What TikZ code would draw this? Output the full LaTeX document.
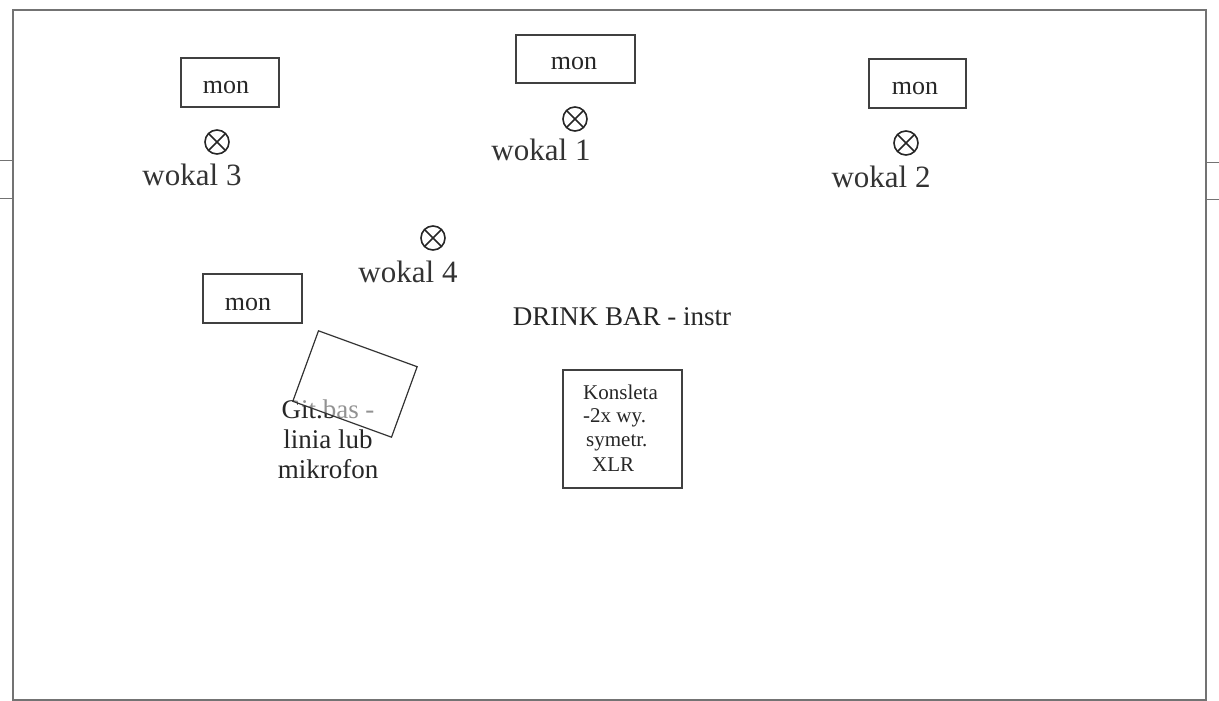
\documentclass[tikz,border=0pt]{standalone}
\usepackage{fontspec}
\setmainfont{Liberation Serif}
\begin{document}
\begin{tikzpicture}[x=1pt,y=-1pt,
  monbox/.style={draw=black!75, line width=1.2pt, inner sep=0pt},
  montext/.style={font=\fontsize{26}{28}\selectfont, text=black!85, anchor=base, inner sep=0pt},
  wokal/.style={font=\fontsize{31}{33}\selectfont, text=black!80, anchor=base},
  mic/.style={circle, draw=black!85, line width=1.6pt, minimum size=24pt, inner sep=0pt,
    path picture={\draw[line width=1.6pt, black!85] (path picture bounding box.north west) -- (path picture bounding box.south east)
      (path picture bounding box.north east) -- (path picture bounding box.south west);}},
  konsline/.style={font=\fontsize{21}{24}\selectfont, text=black!85, anchor=base west, inner sep=0pt},
  wall/.style={draw=black!55, line width=1.4pt}
]
\useasboundingbox (0,0) rectangle (1219,701);
% room
\draw[wall] (13,10) rectangle (1206,700);
\coordinate (tl1) at (0,160); \coordinate (tl1e) at (13,160);
\coordinate (tl2) at (0,198); \coordinate (tl2e) at (13,198);
\coordinate (tr1) at (1206,162); \coordinate (tr1e) at (1219,162);
\coordinate (tr2) at (1206,199); \coordinate (tr2e) at (1219,199);
\draw[wall, line width=1pt] (tl1) -- (tl1e) (tl2) -- (tl2e) (tr1) -- (tr1e) (tr2) -- (tr2e);

% monitors
\draw[monbox] (181,58) rectangle (279,107);
\node[montext] (mon3) at (226,93) {mon};
\draw[monbox] (516,35) rectangle (635,83);
\node[montext] (mon1) at (574,70) {mon};
\draw[monbox] (869,59) rectangle (966,108);
\node[montext] (mon2) at (915,95) {mon};
\draw[monbox] (203,274) rectangle (302,323);
\node[montext] (mon4) at (248,310) {mon};

% vocal mics
\node[mic] (m3) at (217,142) {};
\node[wokal] (w3) at (192,185) {wokal 3};
\node[mic] (m1) at (575,119) {};
\node[wokal] (w1) at (541,160) {wokal 1};
\node[mic] (m2) at (906,143) {};
\node[wokal] (w2) at (881,187) {wokal 2};
\node[mic] (m4) at (433,238) {};
\node[wokal] (w4) at (408,282) {wokal 4};

% drink bar
\node[font=\fontsize{27}{29}\selectfont, text=black!85, anchor=base] (bar) at (622,325) {DRINK BAR - instr};

% bass
\node[font=\fontsize{27}{30}\selectfont, text=black!85, align=center, anchor=base] (bas) at (328,478)
  {Git.bas -\\linia lub\\mikrofon};
\node[draw=black!80, line width=1.2pt, fill=white, fill opacity=0.5, minimum width=105pt, minimum height=75pt,
  rotate=-20, inner sep=0pt] (basbox) at (355,384) {};

% console
\draw[monbox] (563,370) rectangle (682,488);
\node[konsline] (k1) at (583,399) {Konsleta};
\node[konsline] (k2) at (583,422) {-2x wy.};
\node[konsline] (k3) at (586,446) {symetr.};
\node[konsline] (k4) at (592,471) {XLR};
\end{tikzpicture}
\end{document}
